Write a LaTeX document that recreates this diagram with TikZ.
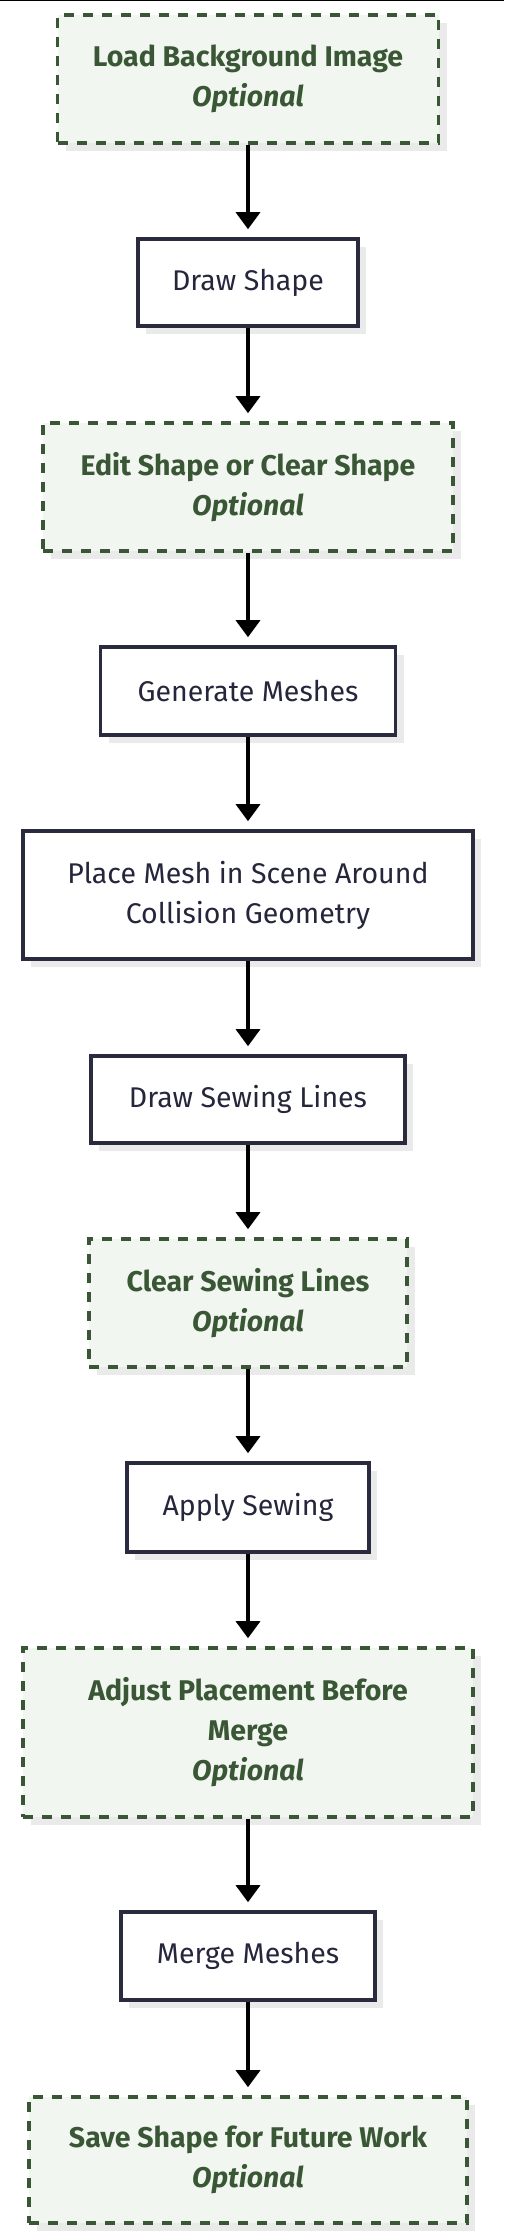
\documentclass[tikz,border=0pt]{standalone}
\usepackage{fontspec}
\setmainfont{Fira Sans}
\usetikzlibrary{arrows.meta,shadows}
\definecolor{navy}{HTML}{25253B}
\definecolor{navyline}{HTML}{2B2B40}
\definecolor{optgreen}{HTML}{3A5735}
\definecolor{optfill}{HTML}{F1F6F0}
\definecolor{shadowgray}{HTML}{EAEAEA}
\begin{document}
\begin{tikzpicture}[x=1pt,y=-1pt,
  base/.style={rectangle, line width=3.6pt, align=center, inner sep=0pt,
    font=\fontsize{28.5}{40}\selectfont,
    drop shadow={shadow xshift=8pt, shadow yshift=-8pt, fill=shadowgray, opacity=1}},
  stepbox/.style={base, draw=navyline, fill=white, text=navy},
  optbox/.style={base, draw=optgreen, fill=optfill, text=optgreen,
    dash pattern=on 10pt off 9pt, font=\fontsize{28.5}{40}\selectfont\bfseries},
  flow/.style={line width=3.4pt, black, -{Triangle[width=24pt,length=17pt]}, shorten >=8pt}
]
\useasboundingbox (0,0) rectangle (504,2240);
\fill[white] (0,0) rectangle (504,2240);
\draw[line width=1.2pt, black] (0,0.5) -- (504,0.5);

\node[optbox, minimum width=381pt, minimum height=128pt] (n1) at (248,79)
  {Load Background Image\\\textit{Optional}};
\node[stepbox, minimum width=220pt, minimum height=87pt] (n2) at (248,282.5)
  {Draw Shape};
\node[optbox, minimum width=410pt, minimum height=128pt] (n3) at (248,487)
  {Edit Shape or Clear Shape\\\textit{Optional}};
\node[stepbox, minimum width=295pt, minimum height=88pt] (n4) at (248,691)
  {Generate Meshes};
\node[stepbox, minimum width=450pt, minimum height=128pt] (n5) at (248,895)
  {Place Mesh in Scene Around\\Collision Geometry};
\node[stepbox, minimum width=314pt, minimum height=87pt] (n6) at (248,1099.5)
  {Draw Sewing Lines};
\node[optbox, minimum width=318pt, minimum height=128pt] (n7) at (248,1303)
  {Clear Sewing Lines\\\textit{Optional}};
\node[stepbox, minimum width=242pt, minimum height=89pt] (n8) at (248,1507.5)
  {Apply Sewing};
\node[optbox, minimum width=450pt, minimum height=169pt] (n9) at (248,1732.5)
  {Adjust Placement Before\\Merge\\\textit{Optional}};
\node[stepbox, minimum width=254pt, minimum height=88pt] (n10) at (248,1956)
  {Merge Meshes};
\node[optbox, minimum width=438pt, minimum height=126pt] (n11) at (248,2160)
  {Save Shape for Future Work\\\textit{Optional}};

\draw[flow] (n1) -- (n2);
\draw[flow] (n2) -- (n3);
\draw[flow] (n3) -- (n4);
\draw[flow] (n4) -- (n5);
\draw[flow] (n5) -- (n6);
\draw[flow] (n6) -- (n7);
\draw[flow] (n7) -- (n8);
\draw[flow] (n8) -- (n9);
\draw[flow] (n9) -- (n10);
\draw[flow] (n10) -- (n11);
\end{tikzpicture}
\end{document}
